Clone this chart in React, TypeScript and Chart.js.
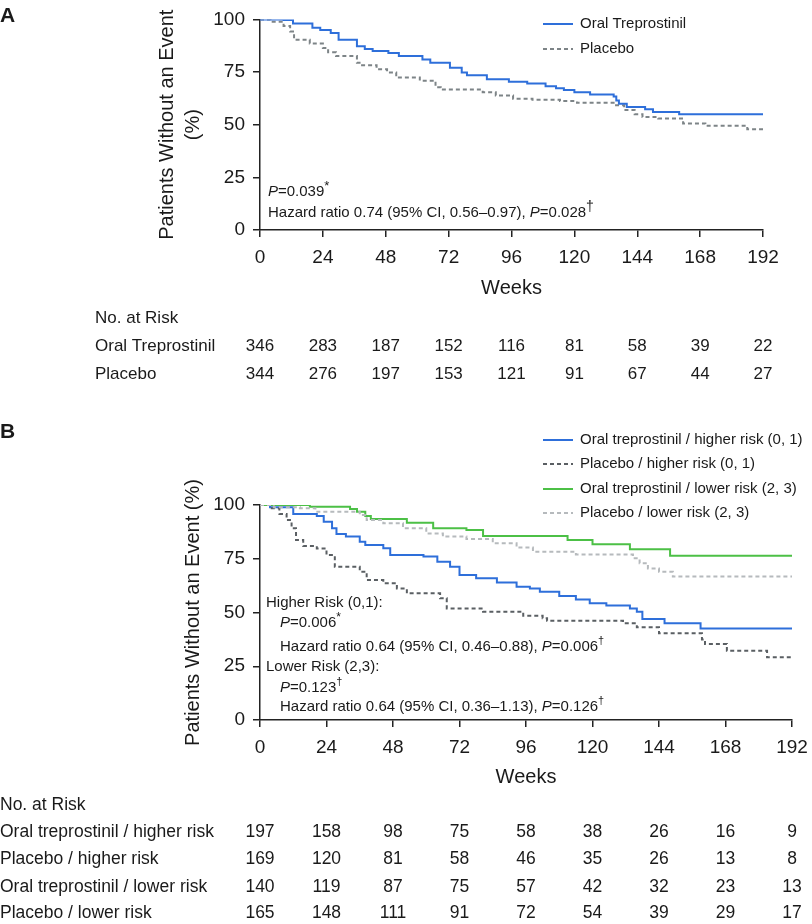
import React, { useEffect, useRef } from "react";
import { Chart, registerables } from "chart.js";
Chart.register(...registerables);

const FONT = '"Liberation Sans", Arial, Helvetica, sans-serif';
const TXT = "#1a1a1a";
const AXIS = "#222";

const weekTicks = [0, 24, 48, 72, 96, 120, 144, 168, 192];

// ---------- Panel A ----------
const aOralWeeks = [0, 9, 12.6, 20, 23, 27, 30, 37, 40, 43, 49, 53, 62, 65, 72.5, 77, 79, 86.6, 95, 102, 109, 113, 116, 120, 126, 135, 136, 137, 140, 147, 150, 160, 192];
const aOralSurv = [100, 99.7, 98, 96, 95, 93.5, 90.3, 87.2, 86, 85, 84, 82.6, 81, 79.4, 77, 74.8, 73.5, 71.6, 70.4, 69.6, 68.2, 67.3, 66.5, 65.4, 64.3, 63.4, 61.5, 60, 58.4, 57.3, 56, 55, 55];
const aPlaceboWeeks = [0, 4, 9, 11.5, 13, 19, 24, 26, 29, 37, 38, 44.5, 48.5, 52, 61, 67, 69, 85, 90, 96.6, 104, 114.5, 121, 135.5, 139, 143, 146, 152, 161.5, 170, 186, 192];
const aPlaceboSurv = [100, 98.9, 96.9, 94.3, 90.3, 88.5, 86.4, 84.4, 82.6, 79.4, 78.2, 76.3, 74.8, 72.4, 70.9, 67.8, 66.7, 65.4, 63.9, 62.3, 61.8, 61.2, 60.4, 59.2, 57, 55, 53.7, 53, 50.6, 49.5, 47.8, 47.8];
const aSeriesNames = ["Oral Treprostinil", "Placebo"];
const aRiskOral = [346, 283, 187, 152, 116, 81, 58, 39, 22];
const aRiskPlacebo = [344, 276, 197, 153, 121, 91, 67, 44, 27];

// ---------- Panel B ----------
const bOralHighWeeks = [0, 3.6, 12, 20.5, 23, 26, 27.6, 31, 36, 38, 44.5, 47, 59, 64, 68.6, 72, 78, 85.5, 92.6, 97.4, 101, 108, 114, 119, 125, 133.5, 136, 138, 146, 159, 192];
const bOralHighSurv = [100, 99, 95.8, 94.9, 92.2, 89.2, 86.5, 85.3, 82.9, 81.4, 79.9, 76.7, 76, 73.6, 71.3, 67.4, 65.9, 63.9, 62, 61.2, 59.7, 57.7, 56.1, 54.3, 53.2, 51.9, 50.4, 47, 45, 42.6, 42.6];
const bPlacHighWeeks = [0, 3.6, 7, 9.6, 11.4, 13, 15.6, 20.5, 24, 27, 36, 38.5, 44.5, 49.4, 53, 65, 67.4, 80.5, 95, 102, 103.6, 131, 136, 144, 159.5, 160.6, 168.5, 183, 192];
const bPlacHighSurv = [100, 98.5, 95.8, 93, 89.2, 83.7, 80.9, 79.8, 76.7, 71.3, 69, 65.1, 63.6, 61.2, 58.9, 56.6, 51.9, 50.4, 48.5, 47.3, 46.2, 45, 43.1, 40.3, 37.5, 35.3, 32.2, 29.2, 29.2];
const bOralLowWeeks = [0, 18, 32.5, 35, 38, 40, 53, 62.5, 74.5, 80.5, 111, 120, 133.5, 148, 192];
const bOralLowSurv = [100, 99.2, 98.1, 96.9, 94.9, 93.5, 91.8, 89.2, 88.4, 85.6, 83.7, 81.7, 79.4, 76.4, 76.4];
const bPlacLowWeeks = [0, 5, 14.4, 20, 36, 38.5, 44.5, 51.6, 60, 66, 74.5, 84, 92.6, 98.5, 114, 134.6, 137, 140, 144, 149, 192];
const bPlacLowSurv = [100, 99, 98.5, 96.9, 95.3, 93, 91.5, 89.2, 86.8, 85.3, 84.2, 82.2, 80.2, 78.3, 77, 75.2, 72.9, 70.5, 69, 66.7, 66.7];
const bSeriesNames = [
  "Oral treprostinil / higher risk (0, 1)",
  "Placebo / higher risk (0, 1)",
  "Oral treprostinil / lower risk (2, 3)",
  "Placebo / lower risk (2, 3)",
];
const bRiskLabels = [
  "Oral treprostinil / higher risk",
  "Placebo / higher risk",
  "Oral treprostinil / lower risk",
  "Placebo / lower risk",
];
const bRiskOralHigh = [197, 158, 98, 75, 58, 38, 26, 16, 9];
const bRiskPlacHigh = [169, 120, 81, 58, 46, 35, 26, 13, 8];
const bRiskOralLow = [140, 119, 87, 75, 57, 42, 32, 23, 13];
const bRiskPlacLow = [165, 148, 111, 91, 72, 54, 39, 29, 17];

const C_BLUE = "#2e6fda";
const C_GREEN = "#4cc046";
const C_GRAY_A = "#7d8487";
const C_GRAY_DARK = "#5a5f63";
const C_GRAY_LIGHT = "#b6babd";

type Seg = { t: string; i?: boolean; sup?: boolean };

function toPts(w: number[], s: number[]) {
  return w.map((x, i) => ({ x, y: s[i] }));
}

function drawRich(ctx: CanvasRenderingContext2D, x: number, y: number, segs: Seg[], size: number, supScale = 0.75, supRaise = 0.4) {
  let cx = x;
  ctx.textAlign = "left";
  ctx.textBaseline = "middle";
  for (const s of segs) {
    const fs = s.sup ? Math.round(size * supScale) : size;
    ctx.font = `${s.i ? "italic " : ""}${fs}px ${FONT}`;
    ctx.fillText(s.t, cx, s.sup ? y - size * supRaise : y);
    cx += ctx.measureText(s.t).width;
  }
}

function makeScales(xAfter: number, yAfter: number) {
  return {
    x: {
      type: "linear" as const,
      min: 0,
      max: 192,
      afterFit: (s: any) => { s.height = xAfter; s.paddingRight = 0; s.paddingLeft = 0; },
      afterBuildTicks: (s: any) => { s.ticks = weekTicks.map((v) => ({ value: v })); },
      ticks: { color: TXT, font: { family: FONT, size: 19 }, padding: 9, maxRotation: 0 },
      grid: { drawOnChartArea: false, color: AXIS, lineWidth: 1.5, tickLength: 7 },
      border: { display: true, color: AXIS, width: 1.5 },
    },
    y: {
      type: "linear" as const,
      min: 0,
      max: 100,
      afterFit: (s: any) => { s.width = yAfter; },
      ticks: { stepSize: 25, color: TXT, font: { family: FONT, size: 19 }, padding: 8 },
      grid: { drawOnChartArea: false, color: AXIS, lineWidth: 1.5, tickLength: 7 },
      border: { display: true, color: AXIS, width: 1.5 },
    },
  };
}

function line(label: string, data: any[], color: string, dashed: boolean) {
  return {
    label,
    data,
    borderColor: color,
    backgroundColor: color,
    borderWidth: 2,
    borderDash: dashed ? [4, 3] : [],
    pointRadius: 0,
    stepped: "before" as const,
    fill: false,
    tension: 0,
  };
}

function drawLegend(ctx: CanvasRenderingContext2D, rows: { name: string; color: string; dashed: boolean; y: number }[], size: number) {
  for (const r of rows) {
    ctx.save();
    ctx.strokeStyle = r.color;
    ctx.lineWidth = 2;
    ctx.setLineDash(r.dashed ? [4, 3] : []);
    ctx.beginPath();
    ctx.moveTo(543, r.y);
    ctx.lineTo(573, r.y);
    ctx.stroke();
    ctx.restore();
    ctx.fillStyle = TXT;
    ctx.font = `${size}px ${FONT}`;
    ctx.textAlign = "left";
    ctx.textBaseline = "middle";
    ctx.fillText(r.name, 580, r.y);
  }
}

function drawRiskRows(chart: any, rows: { label: string; values: number[]; y: number }[], labelX: number, headY: number, size: number) {
  const ctx: CanvasRenderingContext2D = chart.ctx;
  const xs = chart.scales.x;
  ctx.fillStyle = TXT;
  ctx.font = `${size}px ${FONT}`;
  ctx.textBaseline = "middle";
  ctx.textAlign = "left";
  ctx.fillText("No. at Risk", labelX, headY);
  for (const r of rows) {
    ctx.textAlign = "left";
    ctx.fillText(r.label, labelX, r.y);
    ctx.textAlign = "center";
    r.values.forEach((v, i) => {
      ctx.fillText(String(v), xs.getPixelForValue(weekTicks[i]), r.y);
    });
  }
}

function rotatedText(ctx: CanvasRenderingContext2D, text: string, x: number, y: number, size: number) {
  ctx.save();
  ctx.font = `${size}px ${FONT}`;
  ctx.textAlign = "center";
  ctx.textBaseline = "middle";
  ctx.translate(x, y);
  ctx.rotate(-Math.PI / 2);
  ctx.fillText(text, 0, 0);
  ctx.restore();
}

const panelAPlugin = {
  id: "panelA",
  afterDraw(chart: any) {
    const ctx: CanvasRenderingContext2D = chart.ctx;
    const ca = chart.chartArea;
    ctx.save();
    ctx.fillStyle = TXT;
    ctx.font = `bold 21px ${FONT}`;
    ctx.textAlign = "left";
    ctx.textBaseline = "middle";
    ctx.fillText("A", 0, 16);

    const cy = (ca.top + ca.bottom) / 2;
    rotatedText(ctx, "Patients Without an Event", 167, cy, 20);
    rotatedText(ctx, "(%)", 193, cy, 20);

    ctx.font = `20px ${FONT}`;
    ctx.textAlign = "center";
    ctx.textBaseline = "middle";
    ctx.fillText("Weeks", (ca.left + ca.right) / 2, 288);

    drawLegend(ctx, [
      { name: aSeriesNames[0], color: C_BLUE, dashed: false, y: 24 },
      { name: aSeriesNames[1], color: C_GRAY_A, dashed: true, y: 49 },
    ], 15);

    ctx.fillStyle = TXT;
    drawRich(ctx, 268, 192, [{ t: "P", i: true }, { t: "=0.039" }, { t: "*", sup: true }], 15, 0.85, 0.35);
    drawRich(ctx, 268, 213, [{ t: "Hazard ratio 0.74 (95% CI, 0.56\u20130.97), " }, { t: "P", i: true }, { t: "=0.028" }, { t: "\u2020", sup: true }], 15, 0.9, 0.4);

    drawRiskRows(chart, [
      { label: aSeriesNames[0], values: aRiskOral, y: 346 },
      { label: aSeriesNames[1], values: aRiskPlacebo, y: 374 },
    ], 95, 318, 17);
    ctx.restore();
  },
};

const panelBPlugin = {
  id: "panelB",
  afterDraw(chart: any) {
    const ctx: CanvasRenderingContext2D = chart.ctx;
    const ca = chart.chartArea;
    ctx.save();
    ctx.fillStyle = TXT;
    ctx.font = `bold 21px ${FONT}`;
    ctx.textAlign = "left";
    ctx.textBaseline = "middle";
    ctx.fillText("B", 0, 32);

    const cy = (ca.top + ca.bottom) / 2;
    rotatedText(ctx, "Patients Without an Event (%)", 193, cy, 20);

    ctx.font = `20px ${FONT}`;
    ctx.textAlign = "center";
    ctx.textBaseline = "middle";
    ctx.fillText("Weeks", (ca.left + ca.right) / 2, 377);

    drawLegend(ctx, [
      { name: bSeriesNames[0], color: C_BLUE, dashed: false, y: 40 },
      { name: bSeriesNames[1], color: C_GRAY_DARK, dashed: true, y: 64 },
      { name: bSeriesNames[2], color: C_GREEN, dashed: false, y: 89 },
      { name: bSeriesNames[3], color: C_GRAY_LIGHT, dashed: true, y: 113 },
    ], 15);

    ctx.fillStyle = TXT;
    const fs = 15;
    drawRich(ctx, 266, 203, [{ t: "Higher Risk (0,1):" }], fs);
    drawRich(ctx, 280, 223, [{ t: "P", i: true }, { t: "=0.006" }, { t: "*", sup: true }], fs, 0.8, 0.35);
    drawRich(ctx, 280, 247, [{ t: "Hazard ratio 0.64 (95% CI, 0.46\u20130.88), " }, { t: "P", i: true }, { t: "=0.006" }, { t: "\u2020", sup: true }], fs, 0.7, 0.4);
    drawRich(ctx, 266, 267, [{ t: "Lower Risk (2,3):" }], fs);
    drawRich(ctx, 280, 288, [{ t: "P", i: true }, { t: "=0.123" }, { t: "\u2020", sup: true }], fs, 0.7, 0.4);
    drawRich(ctx, 280, 307, [{ t: "Hazard ratio 0.64 (95% CI, 0.36\u20131.13), " }, { t: "P", i: true }, { t: "=0.126" }, { t: "\u2020", sup: true }], fs, 0.7, 0.4);

    drawRiskRows(chart, [
      { label: bRiskLabels[0], values: bRiskOralHigh, y: 432 },
      { label: bRiskLabels[1], values: bRiskPlacHigh, y: 459 },
      { label: bRiskLabels[2], values: bRiskOralLow, y: 487 },
      { label: bRiskLabels[3], values: bRiskPlacLow, y: 513 },
    ], 0, 405, 17.5);
    ctx.restore();
  },
};

export default function App() {
  const refA = useRef<HTMLCanvasElement | null>(null);
  const refB = useRef<HTMLCanvasElement | null>(null);

  useEffect(() => {
    const chartA = new Chart(refA.current!, {
      type: "line",
      data: {
        datasets: [
          line(aSeriesNames[0], toPts(aOralWeeks, aOralSurv), C_BLUE, false),
          line(aSeriesNames[1], toPts(aPlaceboWeeks, aPlaceboSurv), C_GRAY_A, true),
        ],
      },
      options: {
        responsive: false,
        animation: false,
        events: [],
        layout: { padding: { top: 16, right: 49, left: 0, bottom: 0 } },
        plugins: { legend: { display: false }, tooltip: { enabled: false } },
        scales: makeScales(170, 260),
      },
      plugins: [panelAPlugin],
    } as any);

    const chartB = new Chart(refB.current!, {
      type: "line",
      data: {
        datasets: [
          line(bSeriesNames[3], toPts(bPlacLowWeeks, bPlacLowSurv), C_GRAY_LIGHT, true),
          line(bSeriesNames[2], toPts(bOralLowWeeks, bOralLowSurv), C_GREEN, false),
          line(bSeriesNames[1], toPts(bPlacHighWeeks, bPlacHighSurv), C_GRAY_DARK, true),
          line(bSeriesNames[0], toPts(bOralHighWeeks, bOralHighSurv), C_BLUE, false),
        ],
      },
      options: {
        responsive: false,
        animation: false,
        events: [],
        layout: { padding: { top: 105, right: 20, left: 0, bottom: 0 } },
        plugins: { legend: { display: false }, tooltip: { enabled: false } },
        scales: makeScales(204, 260),
      },
      plugins: [panelBPlugin],
    } as any);

    return () => {
      chartA.destroy();
      chartB.destroy();
    };
  }, []);

  return (
    <div style={{ position: "absolute", left: 0, top: 0, width: 812, height: 924, background: "#fff" }}>
      <canvas ref={refA} width={812} height={400} style={{ position: "absolute", left: 0, top: 0, width: 812, height: 400 }} />
      <canvas ref={refB} width={812} height={524} style={{ position: "absolute", left: 0, top: 400, width: 812, height: 524 }} />
    </div>
  );
}
